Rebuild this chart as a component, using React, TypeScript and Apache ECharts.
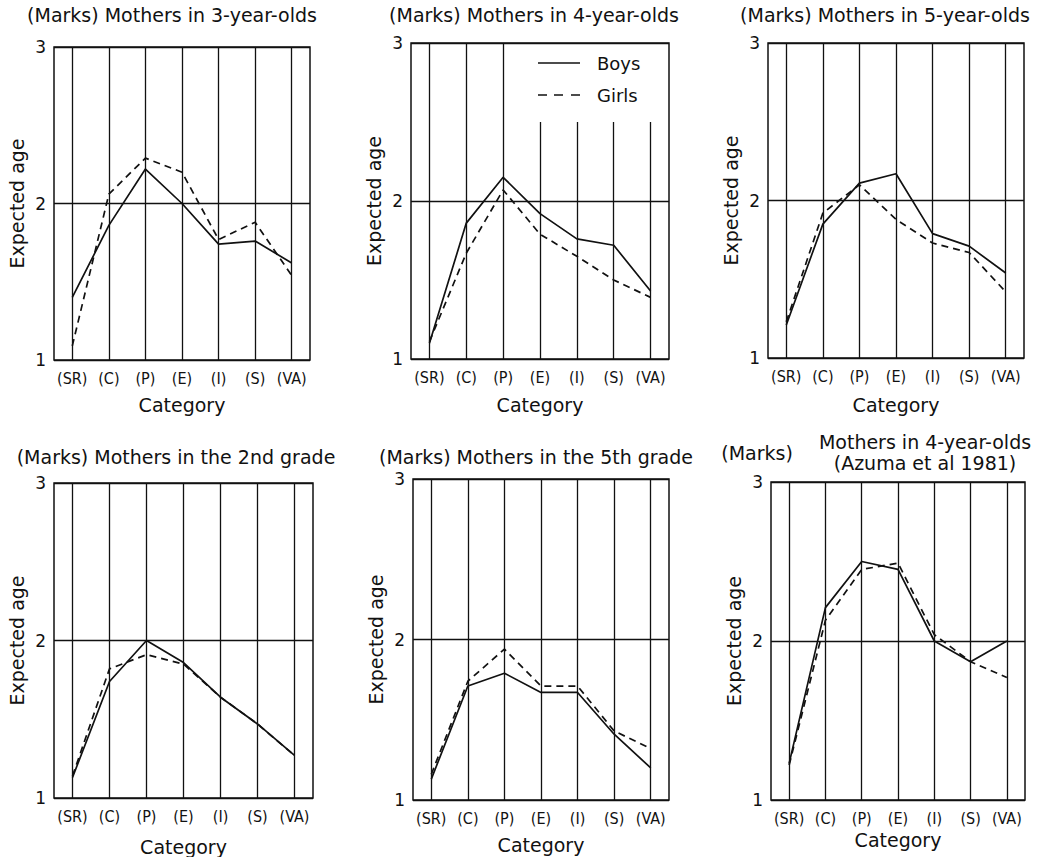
import React, { useEffect, useRef } from "react";
import * as echarts from "echarts";

// ---- data ----
const categories = ["(SR)", "(C)", "(P)", "(E)", "(I)", "(S)", "(VA)"];
const yTicks = [1, 2, 3];

const boys3 = [1.4, 1.86, 2.22, 2.0, 1.74, 1.76, 1.62];
const girls3 = [1.09, 2.06, 2.29, 2.2, 1.77, 1.88, 1.54];

const boys4 = [1.1, 1.86, 2.15, 1.92, 1.76, 1.72, 1.43];
const girls4 = [1.11, 1.67, 2.07, 1.79, 1.65, 1.5, 1.39];

const boys5 = [1.21, 1.85, 2.11, 2.17, 1.79, 1.71, 1.54];
const girls5 = [1.23, 1.92, 2.1, 1.88, 1.73, 1.67, 1.42];

const boysG2 = [1.13, 1.74, 2.0, 1.86, 1.64, 1.47, 1.27];
const girlsG2 = [1.14, 1.82, 1.91, 1.85, 1.64, 1.47, 1.27];

const boysG5 = [1.13, 1.71, 1.79, 1.67, 1.67, 1.41, 1.2];
const girlsG5 = [1.16, 1.74, 1.94, 1.71, 1.71, 1.43, 1.32];

const boysAz = [1.23, 2.21, 2.5, 2.45, 2.0, 1.87, 2.0];
const girlsAz = [1.22, 2.13, 2.45, 2.49, 2.04, 1.87, 1.77];

const titles = [
  "(Marks) Mothers in 3-year-olds",
  "(Marks) Mothers in 4-year-olds",
  "(Marks) Mothers in 5-year-olds",
  "(Marks) Mothers in the 2nd grade",
  "(Marks) Mothers in the 5th grade",
];
const azumaMarks = "(Marks)";
const azumaTitle = "Mothers in 4-year-olds\n(Azuma et al 1981)";
const xName = "Category";
const yName = "Expected age";
const seriesNames = ["Boys", "Girls"];

// ---- layout (styles/positions) ----
const INK = "#111";
const FONT = "'DejaVu Sans', 'Liberation Sans', Arial, sans-serif";
const NARROW = "'Liberation Sans Narrow', 'DejaVu Sans Condensed', 'Liberation Sans', Arial, sans-serif";
const panels = [
  { boys: boys3, girls: girls3, grid: { left: 54, top: 47, width: 256, height: 313 }, title: [172, 15], nameGap: 35, cut: false },
  { boys: boys4, girls: girls4, grid: { left: 411, top: 43, width: 258, height: 316 }, title: [534, 15], nameGap: 36, cut: true },
  { boys: boys5, girls: girls5, grid: { left: 768, top: 43, width: 256, height: 315 }, title: [885, 15], nameGap: 37, cut: false },
  { boys: boysG2, girls: girlsG2, grid: { left: 54, top: 483, width: 259, height: 318 }, title: [176, 457], nameGap: 39, cut: false },
  { boys: boysG5, girls: girlsG5, grid: { left: 413, top: 479, width: 256, height: 321 }, title: [536, 457], nameGap: 35, cut: false },
  { boys: boysAz, girls: girlsAz, grid: { left: 771, top: 482, width: 254, height: 318 }, title: null, nameGap: 30, cut: false },
];
const CUT_TOP = 2.5;

export default function App() {
  const ref = useRef<HTMLDivElement>(null);
  useEffect(() => {
    if (!ref.current) return;
    const chart = echarts.init(ref.current, undefined, { renderer: "svg" });

    const grids: any[] = [];
    const xAxes: any[] = [];
    const yAxes: any[] = [];
    const series: any[] = [];
    const graphics: any[] = [];

    panels.forEach((p, i) => {
      grids.push({
        ...p.grid,
        show: true,
        borderColor: INK,
        borderWidth: 1.5,
        backgroundColor: "transparent",
        containLabel: false,
      });
      xAxes.push({
        type: "category",
        gridIndex: i,
        data: categories,
        boundaryGap: true,
        axisLine: { show: false },
        axisTick: { show: false },
        splitLine: { show: false },
        axisLabel: { interval: 0, margin: 10, color: INK, fontSize: 16, fontFamily: NARROW },
        name: xName,
        nameLocation: "middle",
        nameGap: p.nameGap,
        nameTextStyle: { color: INK, fontSize: 19, fontFamily: FONT },
      });
      yAxes.push({
        type: "value",
        gridIndex: i,
        min: yTicks[0],
        max: yTicks[yTicks.length - 1],
        interval: 1,
        axisLine: { show: false },
        axisTick: { show: false },
        splitLine: { show: true, lineStyle: { color: INK, width: 1.3 } },
        axisLabel: { margin: 8, color: INK, fontSize: 17, fontFamily: FONT },
        name: yName,
        nameLocation: "middle",
        nameGap: 28,
        nameRotate: 90,
        nameTextStyle: { color: INK, fontSize: 19, fontFamily: FONT },
      });

      const markData: any[] = categories.map((c, k) => {
        if (p.cut && k >= 3) {
          return [
            { coord: [c, yTicks[0]] },
            { coord: [c, CUT_TOP] },
          ];
        }
        return { xAxis: c };
      });

      series.push({
        name: seriesNames[0],
        type: "line",
        xAxisIndex: i,
        yAxisIndex: i,
        data: p.boys,
        symbol: "none",
        lineStyle: { color: INK, width: 1.7, type: "solid" },
        itemStyle: { color: INK },
        z: 3,
        markLine: {
          silent: true,
          symbol: ["none", "none"],
          label: { show: false },
          lineStyle: { color: INK, width: 1.3, type: "solid" },
          emphasis: { disabled: true },
          data: markData,
          z: 2,
        },
      });
      series.push({
        name: seriesNames[1],
        type: "line",
        xAxisIndex: i,
        yAxisIndex: i,
        data: p.girls,
        symbol: "none",
        lineStyle: { color: INK, width: 1.7, type: [7, 5] },
        itemStyle: { color: INK },
        z: 3,
      });

      if (p.title) {
        graphics.push({
          type: "text",
          x: p.title[0],
          y: p.title[1],
          style: {
            text: titles[i],
            fill: INK,
            font: `19px ${FONT}`,
            textAlign: "center",
            textVerticalAlign: "middle",
          },
        });
      }
    });

    graphics.push({
      type: "text",
      x: 757,
      y: 453,
      style: { text: azumaMarks, fill: INK, font: `19px ${FONT}`, textAlign: "center", textVerticalAlign: "middle" },
    });
    graphics.push({
      type: "text",
      x: 925,
      y: 452,
      style: {
        text: azumaTitle,
        fill: INK,
        font: `19px ${FONT}`,
        lineHeight: 21,
        textAlign: "center",
        textVerticalAlign: "middle",
      },
    });

    chart.setOption({
      animation: false,
      backgroundColor: "#fff",
      grid: grids,
      xAxis: xAxes,
      yAxis: yAxes,
      series,
      graphic: graphics,
      legend: {
        data: [
          { name: seriesNames[0], icon: "path://M0,0h42v1.7h-42z" },
          { name: seriesNames[1], icon: "path://M0,0h9v1.7h-9z M16,0h9v1.7h-9z M33,0h9v1.7h-9z" },
        ],
        orient: "vertical",
        left: 533,
        top: 49,
        itemWidth: 42,
        itemHeight: 1.7,
        itemGap: 14,
        selectedMode: false,
        textStyle: { color: INK, fontSize: 18, fontFamily: FONT, padding: [0, 0, 0, 12] },
      },
    });
    return () => chart.dispose();
  }, []);

  return (
    <div
      ref={ref}
      style={{ position: "fixed", left: 0, top: 0, width: 1056, height: 857, background: "#fff" }}
    />
  );
}
